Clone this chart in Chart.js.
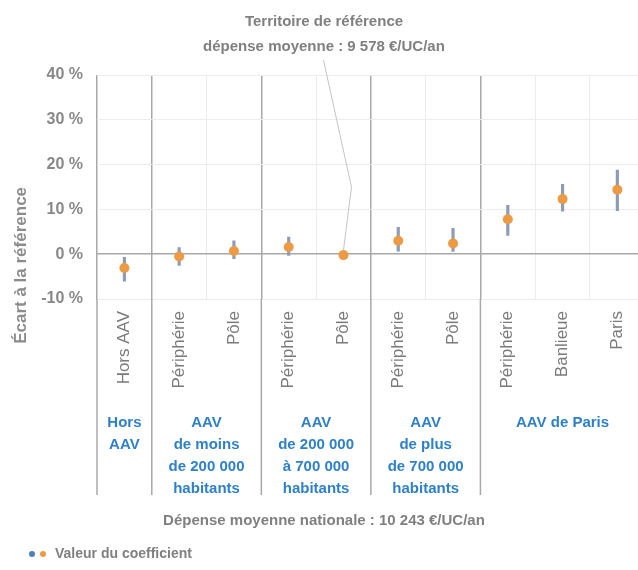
<!DOCTYPE html>
<html>
<head>
<meta charset="utf-8">
<script src="https://cdn.jsdelivr.net/npm/chart.js@4.4.1/dist/chart.umd.min.js"></script>
<style>
  body { margin: 0; background: #fff; font-family: "Liberation Sans", Arial, sans-serif; overflow: hidden; }
  #wrap { position: relative; width: 638px; height: 570px; overflow: hidden; }
  .txt { position: absolute; color: #808080; font-weight: bold; font-size: 15px; text-align: center; }
  .dot { position: absolute; width: 6px; height: 6px; border-radius: 50%; }
</style>
</head>
<body>
<div id="wrap">
  <canvas id="myChart" width="650" height="570"></canvas>
  <div class="txt" style="left:0; width:648px; top:8px; line-height:25px;">Territoire de référence<br>dépense moyenne : 9 578 €/UC/an</div>
  <div class="txt" style="left:0; width:648px; top:511px;">Dépense moyenne nationale : 10 243 €/UC/an</div>
  <div class="dot" style="left:29px; top:551px; background:#4f81bd;"></div>
  <div class="dot" style="left:40px; top:551px; background:#ed9a45;"></div>
  <div class="txt" style="left:55px; top:545px; font-size:14px; text-align:left;">Valeur du coefficient</div>
</div>

<script>
// categories (x axis) and values in %
var categories = ['Hors AAV', 'Périphérie', 'Pôle', 'Périphérie', 'Pôle', 'Périphérie', 'Pôle', 'Périphérie', 'Banlieue', 'Paris'];
var coefficients = [-3.1, -0.5, 0.7, 1.6, -0.2, 3.0, 2.4, 7.8, 12.3, 14.4];
var lowBounds = [-6.0, -2.5, -1.0, -0.3, -0.6, 0.7, 0.6, 4.2, 9.6, 9.7];
var highBounds = [-0.7, 1.5, 3.0, 3.8, 0.2, 6.0, 5.8, 10.9, 15.6, 18.8];
var yTicks = [-10, 0, 10, 20, 30, 40];
var yTitle = 'Écart à la référence';

// groups of categories
var groupLabels = [
  ['Hors', 'AAV'],
  ['AAV', 'de moins', 'de 200 000', 'habitants'],
  ['AAV', 'de 200 000', 'à 700 000', 'habitants'],
  ['AAV', 'de plus', 'de 700 000', 'habitants'],
  ['AAV de Paris']
];
var groupFirst = [0, 1, 3, 5, 7];
var groupLast = [0, 2, 4, 6, 9];

var refIndex = 4; // point linked to "Territoire de référence"

var errorBars = lowBounds.map(function (l, i) { return [l, highBounds[i]]; });

var darkLine = '#a8a8a8';
var lightLine = '#ececec';
var fontFam = '"Liberation Sans", Arial, sans-serif';

var groupPlugin = {
  id: 'groups',
  afterDraw: function (chart) {
    var c = chart.ctx;
    var xs = chart.scales.x;
    var ys = chart.scales.y;
    var area = chart.chartArea;
    var half = (xs.getPixelForValue(1) - xs.getPixelForValue(0)) / 2;

    c.save();
    // separators continued under the plot
    c.strokeStyle = darkLine;
    c.lineWidth = 1.5;
    groupFirst.forEach(function (g) {
      var x = xs.getPixelForValue(g) - half;
      c.beginPath();
      c.moveTo(x, area.bottom);
      c.lineTo(x, area.bottom + 196);
      c.stroke();
    });

    // group labels
    c.fillStyle = '#2f80c6';
    c.font = 'bold 15px ' + fontFam;
    c.textAlign = 'center';
    c.textBaseline = 'middle';
    groupLabels.forEach(function (lines, k) {
      var x = (xs.getPixelForValue(groupFirst[k]) + xs.getPixelForValue(groupLast[k])) / 2;
      lines.forEach(function (t, j) {
        c.fillText(t, x, area.bottom + 124 + j * 22);
      });
    });

    // y axis title (sits a bit low in the original)
    c.fillStyle = '#8c8c8c';
    c.font = 'bold 17px ' + fontFam;
    c.translate(21, ys.getPixelForValue(-2.5));
    c.rotate(-Math.PI / 2);
    c.fillText(yTitle, 0, 0);
    c.setTransform(1, 0, 0, 1, 0, 0);

    // leader line to reference point
    var px = xs.getPixelForValue(refIndex);
    var py = ys.getPixelForValue(coefficients[refIndex]);
    c.strokeStyle = '#c4c4c4';
    c.lineWidth = 1;
    c.beginPath();
    c.moveTo(px - 20, 60);
    c.lineTo(px + 8, ys.getPixelForValue(15));
    c.lineTo(px, py - 5);
    c.stroke();
    c.restore();
  }
};

var ctx = document.getElementById('myChart').getContext('2d');

var myChart = new Chart(ctx, {
  type: 'bar',
  data: {
    labels: categories,
    datasets: [{
      type: 'line',
      label: 'Valeur du coefficient',
      data: coefficients,
      showLine: false,
      pointRadius: 5,
      pointBackgroundColor: '#ed9a45',
      pointBorderWidth: 0,
      order: 0
    }, {
      type: 'bar',
      label: 'Intervalle',
      data: errorBars,
      backgroundColor: '#8d9bb5',
      barThickness: 2.5,
      order: 1
    }]
  },
  options: {
    responsive: false,
    animation: false,
    layout: { padding: { top: 75, left: 0, right: 0, bottom: 0 } },
    plugins: {
      legend: { display: false },
      tooltip: { enabled: false }
    },
    scales: {
      x: {
        offset: true,
        grid: {
          offset: true,
          drawTicks: false,
          lineWidth: function (c) { return (c.index === 0 || groupFirst.indexOf(c.index) >= 0) ? 1.5 : 1; },
          color: function (c) { return (c.index === 0 || groupFirst.indexOf(c.index) >= 0) ? darkLine : lightLine; }
        },
        border: { display: false },
        ticks: {
          minRotation: 90,
          maxRotation: 90,
          padding: 12,
          color: '#7a7a7a',
          font: { size: 17, family: fontFam }
        },
        afterFit: function (scale) { scale.height = 271; }
      },
      y: {
        min: -10,
        max: 40,
        afterBuildTicks: function (scale) {
          scale.ticks = yTicks.map(function (v) { return { value: v }; });
        },
        grid: {
          drawTicks: false,
          lineWidth: function (c) { return c.tick && c.tick.value === 0 ? 1.5 : 1; },
          color: function (c) { return c.tick && c.tick.value === 0 ? darkLine : lightLine; }
        },
        border: { display: false },
        ticks: {
          padding: 14,
          color: '#888888',
          font: { size: 16, weight: 'bold', family: fontFam },
          callback: function (v) { return v + ' %'; }
        },
        afterFit: function (scale) { scale.width = 97; }
      }
    }
  },
  plugins: [groupPlugin]
});
</script>
</body>
</html>
